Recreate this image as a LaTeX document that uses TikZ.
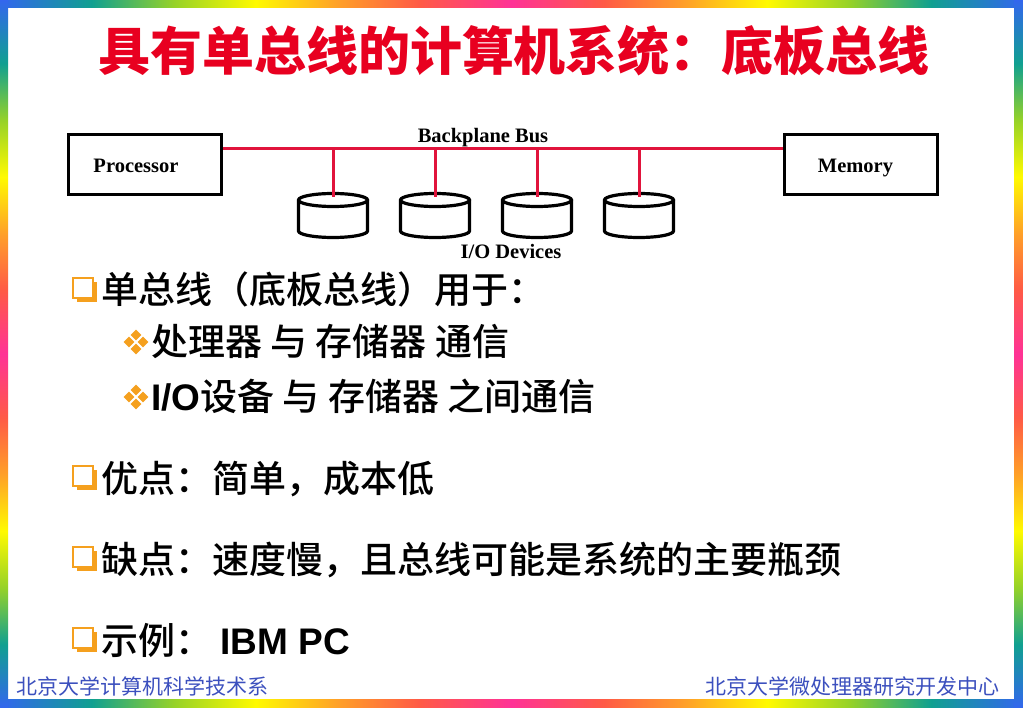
\documentclass[tikz,border=0pt]{standalone}
\usepackage{fontspec}
\setmainfont{Liberation Serif}
\newfontfamily\cjk{Noto Sans CJK SC}[UprightFont=* Medium, BoldFont=* Bold]
\newfontfamily\cjkt{Noto Sans CJK SC}
\newfontfamily\arial{Liberation Sans}
\usetikzlibrary{positioning,calc,shadows,shapes.geometric}

\definecolor{rbblue}{RGB}{51,102,238}
\definecolor{rbteal}{RGB}{16,160,144}
\definecolor{rbgreen}{RGB}{150,210,40}
\definecolor{rbyellow}{RGB}{255,250,0}
\definecolor{rborange}{RGB}{255,160,40}
\definecolor{rbred}{RGB}{255,90,70}
\definecolor{rbpink}{RGB}{255,50,150}
\definecolor{titlered}{RGB}{232,0,32}
\definecolor{busred}{RGB}{225,20,60}
\definecolor{bulletorange}{RGB}{245,160,30}
\definecolor{footblue}{RGB}{60,80,190}

\pgfdeclarehorizontalshading{rainbowh}{100bp}{color(0bp)=(rbblue); color(25bp)=(rbblue); color(29.5bp)=(rbteal); color(33.5bp)=(rbgreen); color(37.5bp)=(rbyellow); color(41.5bp)=(rborange); color(45.5bp)=(rbred); color(50bp)=(rbpink); color(54.5bp)=(rbred); color(58.5bp)=(rborange); color(62.5bp)=(rbyellow); color(66.5bp)=(rbgreen); color(70.5bp)=(rbteal); color(75bp)=(rbblue); color(100bp)=(rbblue)}
\pgfdeclareverticalshading{rainbowv}{100bp}{color(0bp)=(rbblue); color(25bp)=(rbblue); color(29.5bp)=(rbteal); color(33.5bp)=(rbgreen); color(37.5bp)=(rbyellow); color(41.5bp)=(rborange); color(45.5bp)=(rbred); color(50bp)=(rbpink); color(54.5bp)=(rbred); color(58.5bp)=(rborange); color(62.5bp)=(rbyellow); color(66.5bp)=(rbgreen); color(70.5bp)=(rbteal); color(75bp)=(rbblue); color(100bp)=(rbblue)}

\begin{document}
\begin{tikzpicture}%
	[x=1pt,y=-1pt,
	box/.style = {rectangle, draw, line width=3pt, minimum width=153pt, minimum height=60pt},
	bus/.style = {draw=busred, line width=3pt},
	disk/.style = {draw, line width=3.2pt},
	lab/.style = {inner sep=0pt, font=\fontsize{20.5pt}{24pt}\selectfont\bfseries},
	item/.style = {inner sep=0pt, anchor=base west, font=\cjk\fontsize{37pt}{40pt}\selectfont},
	qbox/.style = {rectangle, draw=bulletorange, fill=white, line width=1.4pt, minimum size=20pt, inner sep=0pt, drop shadow={shadow xshift=4pt, shadow yshift=-4pt, fill=bulletorange, opacity=1}},
	dmd/.style = {diamond, fill=bulletorange, inner sep=0pt, minimum size=11pt},
	foot/.style = {inner sep=0pt, text=footblue, font=\cjkt\fontsize{21pt}{24pt}\selectfont}]
	\useasboundingbox (0,0) rectangle (1023,708);
	\fill[white] (0,0) rectangle (1023,708);
	\shade[shading=rainbowh] (0,0) rectangle (1023,8);
	\shade[shading=rainbowh] (0,699) rectangle (1023,708);
	\shade[shading=rainbowv] (0,0) rectangle (8,708);
	\shade[shading=rainbowv] (1014,0) rectangle (1023,708);

	\node[inner sep=0pt, text=titlered, font=\cjkt\bfseries\fontsize{52pt}{60pt}\selectfont] (title) at (514,51) {具有单总线的计算机系统：底板总线};

	\node[box] (proc) at (144.5,165) {};
	\node[lab, anchor=base] (proct) at (136,173) {Processor};
	\node[box] (mem) at (860.5,165) {};
	\node[lab, anchor=base] (memt) at (855.5,173) {Memory};
	\coordinate (bus) at (483,149);
	\draw[bus] (proc.east |- bus) -- (mem.west |- bus);
	\node[lab, anchor=base] (bbus) at (483,143) {Backplane Bus};
	\foreach \i/\x in {1/333,2/435,3/537,4/639} {
		\coordinate (d\i) at (\x,197);
		\draw[disk] (\x-34.5,200) arc[start angle=180, end angle=-180, x radius=34.5, y radius=6.5]
			-- (\x-34.5,231) arc[start angle=180, end angle=0, x radius=34.5, y radius=6.5] -- (\x+34.5,200);
		\draw[bus] (d\i |- bus) -- (d\i);
	}
	\node[lab, anchor=base] (io) at (511,259) {I/O Devices};

	\node[qbox] (q1) at (83,288) {};
	\node[item] (use) at (101,304) {单总线（底板总线）用于：};
	\foreach \n/\y in {a/342,b/397}
		\foreach \k/\dx/\dy in {1/-7/0,2/7/0,3/0/-7,4/0/7}
			\node[dmd] (dm\n\k) at (136+\dx,\y+\dy) {};
	\node[item] (use1) at (151,356) {处理器 与 存储器 通信};
	\node[item] (use2) at (151,411) {{\arial\bfseries I/O}设备 与 存储器 之间通信};

	\node[qbox] (q2) at (83,476) {};
	\node[item] (pro) at (101,492) {优点：简单，成本低};
	\node[qbox] (q3) at (83,557) {};
	\node[item] (con) at (101,573) {缺点：速度慢，且总线可能是系统的主要瓶颈};
	\node[qbox] (q4) at (83,638) {};
	\node[item] (ex) at (101,654) {示例： {\arial\bfseries IBM PC}};

	\node[foot, anchor=west] (dept) at (16,686) {北京大学计算机科学技术系};
	\node[foot, anchor=east] (center) at (1000,686) {北京大学微处理器研究开发中心};
\end{tikzpicture}
\end{document}
